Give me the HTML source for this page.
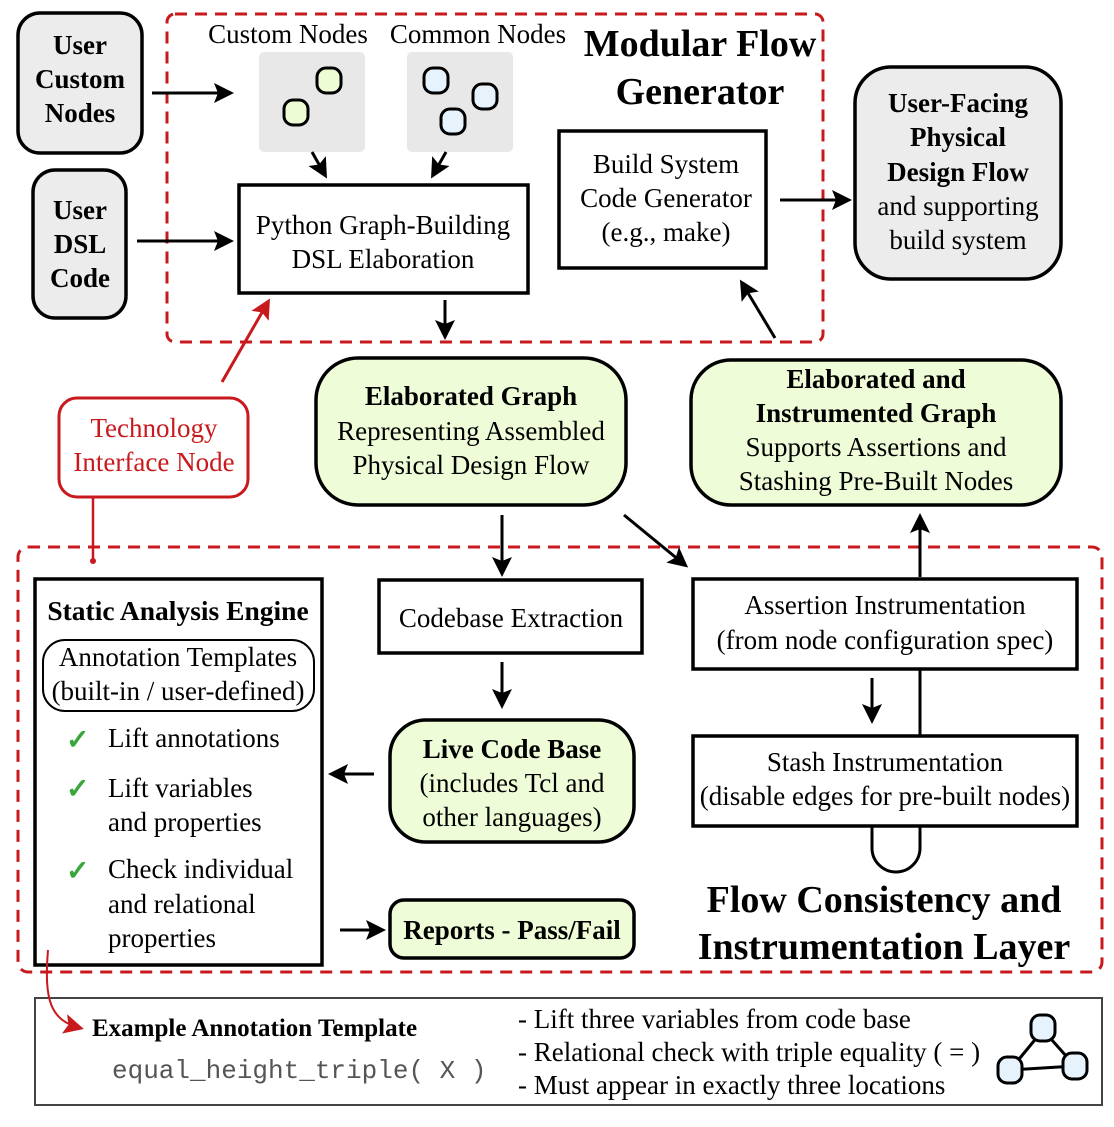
<!DOCTYPE html>
<html><head><meta charset="utf-8"><style>body{margin:0;background:#fff}svg{display:block}</style></head><body>
<svg width="1114" height="1127" viewBox="0 0 1114 1127" xmlns="http://www.w3.org/2000/svg" style="font-family:'Liberation Serif',serif">
<defs>
<marker id="ab" viewBox="0 0 10 10" markerWidth="20" markerHeight="20" refX="8" refY="5" orient="auto" markerUnits="userSpaceOnUse"><path d="M0,0L10,5L0,10L2,5z" fill="#000"/></marker>
<marker id="ar" viewBox="0 0 10 10" markerWidth="20" markerHeight="20" refX="8" refY="5" orient="auto" markerUnits="userSpaceOnUse"><path d="M0,0L10,5L0,10L2,5z" fill="#c8191c"/></marker>
</defs>
<g fill="none" stroke="#c8191c" stroke-width="3" stroke-dasharray="12,8">
<rect x="167" y="14" width="656" height="328" rx="8"/>
<rect x="18" y="547" width="1084" height="425" rx="10"/>
</g>
<g stroke="#000" stroke-width="3.5">
<rect x="18" y="13" width="124" height="140" rx="22" fill="#ececec"/>
<rect x="33" y="170" width="93" height="148" rx="22" fill="#ececec"/>
<rect x="855" y="67" width="206" height="212" rx="36" fill="#ececec"/>
<rect x="239" y="185" width="289" height="108" fill="#fff"/>
<rect x="559" y="131" width="207" height="137" fill="#fff"/>
<rect x="316" y="358" width="310" height="147" rx="42" fill="#effcd8"/>
<rect x="691" y="360" width="370" height="145" rx="40" fill="#effcd8"/>
<rect x="35" y="579" width="287" height="386" fill="#fff"/>
<rect x="379" y="580" width="263" height="73" fill="#fff"/>
<rect x="390" y="720" width="244" height="122" rx="36" fill="#effcd8"/>
<rect x="390" y="900" width="244" height="58" rx="14" fill="#effcd8"/>
<rect x="693" y="579" width="384" height="90" fill="#fff"/>
<rect x="693" y="736" width="384" height="90" fill="#fff"/>
</g>
<rect x="43" y="640" width="271" height="71" rx="22" fill="#fff" stroke="#000" stroke-width="2"/>
<rect x="59" y="398" width="189" height="99" rx="18" fill="#fff" stroke="#c8191c" stroke-width="3"/>
<rect x="35" y="998" width="1067" height="107" fill="#fff" stroke="#444" stroke-width="2"/>
<rect x="259" y="52" width="106" height="100" rx="5" fill="#e8e8e8"/>
<rect x="407" y="52" width="106" height="100" rx="5" fill="#e8e8e8"/>
<g stroke="#000" stroke-width="3">
<rect x="317" y="68" width="24" height="25" rx="9" fill="#eefcd5"/>
<rect x="284" y="100" width="24" height="25" rx="9" fill="#eefcd5"/>
<rect x="424" y="68" width="24" height="25" rx="9" fill="#e6f2fc"/>
<rect x="473" y="84" width="24" height="25" rx="9" fill="#e6f2fc"/>
<rect x="441" y="109" width="24" height="25" rx="9" fill="#e6f2fc"/>
</g>
<g stroke="#000" stroke-width="3" marker-end="url(#ab)" fill="none">
<line x1="152" y1="93" x2="230" y2="93"/>
<line x1="137" y1="241" x2="230" y2="241"/>
<line x1="312" y1="152" x2="325" y2="175"/>
<line x1="446" y1="152" x2="433" y2="175"/>
<line x1="445" y1="300" x2="445" y2="336"/>
<line x1="780" y1="200" x2="848" y2="200"/>
<line x1="775" y1="338" x2="742" y2="283"/>
<line x1="502" y1="515" x2="502" y2="573"/>
<line x1="624" y1="515" x2="685" y2="565"/>
<line x1="502" y1="662" x2="502" y2="705"/>
<line x1="374" y1="774" x2="332" y2="774"/>
<line x1="340" y1="930" x2="382" y2="930"/>
<line x1="872" y1="678" x2="872" y2="720"/>
<line x1="920" y1="577" x2="920" y2="517"/>
</g>
<line x1="920" y1="669" x2="920" y2="736" stroke="#000" stroke-width="3"/>
<path d="M872,826 V848 A24,24 0 0 0 920,848 V826" fill="none" stroke="#000" stroke-width="3"/>
<line x1="222" y1="382" x2="268" y2="302" stroke="#c8191c" stroke-width="3" marker-end="url(#ar)"/>
<line x1="93" y1="497" x2="93" y2="560" stroke="#c8191c" stroke-width="2.5"/>
<circle cx="93" cy="561" r="3" fill="#c8191c"/>
<path d="M48,950 C44,1000 50,1020 80,1028" fill="none" stroke="#c8191c" stroke-width="2" marker-end="url(#ar)"/>
<g stroke="#000" stroke-width="3" fill="#e6f2fc">
<line x1="1043" y1="1030" x2="1010" y2="1070"/><line x1="1043" y1="1030" x2="1075" y2="1066"/><line x1="1010" y1="1070" x2="1075" y2="1066"/>
<rect x="1031" y="1015" width="24" height="26" rx="9"/>
<rect x="998" y="1057" width="24" height="26" rx="9"/>
<rect x="1063" y="1053" width="24" height="26" rx="9"/>
</g>
<g font-size="27" text-anchor="middle" fill="#000">
<g font-weight="bold"><text x="80" y="54">User</text><text x="80" y="88">Custom</text><text x="80" y="122">Nodes</text>
<text x="80" y="219">User</text><text x="80" y="253">DSL</text><text x="80" y="287">Code</text>
<text x="958" y="112">User-Facing</text><text x="958" y="146">Physical</text><text x="958" y="181">Design Flow</text></g>
<text x="958" y="215">and supporting</text><text x="958" y="249">build system</text>
<text x="288" y="43">Custom Nodes</text><text x="478" y="43">Common Nodes</text>
<text x="383" y="234">Python Graph-Building</text><text x="383" y="268">DSL Elaboration</text>
<text x="666" y="173">Build System</text><text x="666" y="207">Code Generator</text><text x="666" y="241">(e.g., make)</text>
<text x="700" y="56" font-size="38" font-weight="bold">Modular Flow</text><text x="700" y="104" font-size="38" font-weight="bold">Generator</text>
<text x="154" y="437" fill="#c8191c">Technology</text><text x="154" y="471" fill="#c8191c">Interface Node</text>
<text x="471" y="405" font-weight="bold">Elaborated Graph</text><text x="471" y="440">Representing Assembled</text><text x="471" y="474">Physical Design Flow</text>
<text x="876" y="388" font-weight="bold">Elaborated and</text><text x="876" y="422" font-weight="bold">Instrumented Graph</text><text x="876" y="456">Supports Assertions and</text><text x="876" y="490">Stashing Pre-Built Nodes</text>
<text x="178" y="620" font-weight="bold" font-size="27.5">Static Analysis Engine</text>
<text x="178" y="666">Annotation Templates</text><text x="178" y="700">(built-in / user-defined)</text>
<text x="511" y="627">Codebase Extraction</text>
<text x="512" y="758" font-weight="bold">Live Code Base</text><text x="512" y="792">(includes Tcl and</text><text x="512" y="826">other languages)</text>
<text x="512" y="939" font-weight="bold">Reports - Pass/Fail</text>
<text x="885" y="614">Assertion Instrumentation</text><text x="885" y="649">(from node configuration spec)</text>
<text x="885" y="771">Stash Instrumentation</text><text x="885" y="805">(disable edges for pre-built nodes)</text>
<text x="884" y="912" font-size="38" font-weight="bold">Flow Consistency and</text><text x="884" y="959" font-size="38" font-weight="bold">Instrumentation Layer</text>
</g>
<g font-size="27" fill="#000">
<text x="108" y="747">Lift annotations</text>
<text x="108" y="797">Lift variables</text><text x="108" y="831">and properties</text>
<text x="108" y="878">Check individual</text><text x="108" y="913">and relational</text><text x="108" y="947">properties</text>
<text x="92" y="1036" font-weight="bold" font-size="25">Example Annotation Template</text>
<text x="112" y="1078" style="font-family:'Liberation Mono',monospace" font-size="26" fill="#555">equal_height_triple( X )</text>
<text x="518" y="1028">- Lift three variables from code base</text>
<text x="518" y="1061">- Relational check with triple equality ( = )</text>
<text x="518" y="1094">- Must appear in exactly three locations</text>
</g>
<g font-size="28" fill="#3aa53a" font-weight="bold"><text x="66" y="749">✓</text><text x="66" y="798">✓</text><text x="66" y="880">✓</text></g>
</svg>
</body></html>
